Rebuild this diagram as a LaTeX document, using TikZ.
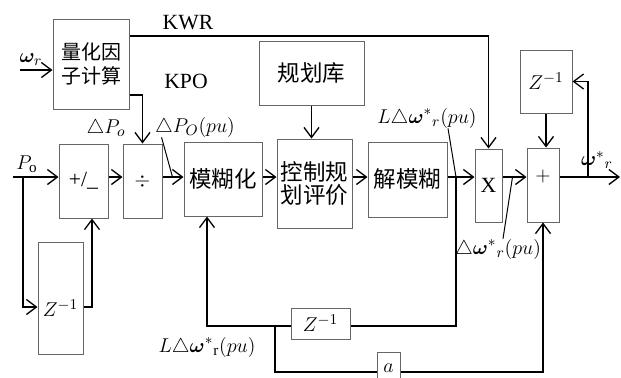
\documentclass[tikz,border=0pt]{standalone}
\usepackage{bm}
\usepackage{fontspec}
\setmainfont{Liberation Serif}
\newfontfamily\cjk{Noto Sans CJK SC}
\usetikzlibrary{arrows.meta}

\begin{document}
\begin{tikzpicture}[
  x=0.6pt, y=-0.6pt,
  box/.style={rectangle, draw=black!60, line width=0.6pt, inner sep=0pt, align=center},
  cn/.style={box, font=\cjk\fontsize{13.5}{14}\selectfont},
  arr/.style={-{Straight Barb[length=6pt,width=9pt]}, line width=0.8pt},
  wire/.style={line width=0.8pt},
  lead/.style={line width=0.6pt},
  lbl/.style={inner sep=0pt},
  font=\fontsize{13}{15}\selectfont
]
\useasboundingbox (0,0) rectangle (621,377);
% blocks
\node[cn, font=\cjk\fontsize{12}{14}\selectfont, minimum width=45.6pt, minimum height=54pt] (quant) at (91,64) {量化因\\子计算};
\node[box, minimum width=29.4pt, minimum height=44.4pt] (sum) at (83.5,181) {+/\_};
\node[box, minimum width=23.4pt, minimum height=44.4pt] (div) at (142.5,181) {$\div$};
\node[cn, minimum width=46.8pt, minimum height=44.4pt] (fuzz) at (223,179) {模糊化};
\node[cn, minimum width=45pt, minimum height=53.4pt] (rule) at (314.5,183.5) {控制规\\划评价};
\node[cn, minimum width=63pt, minimum height=38.4pt] (base) at (311.5,73) {规划库};
\node[cn, minimum width=47.4pt, minimum height=45pt] (defuzz) at (407.5,179.5) {解模糊};
\node[box, minimum width=16.2pt, minimum height=43.8pt] (mult) at (488.5,185.5) {X};
\node[box, minimum width=19.2pt, minimum height=44.4pt, text depth=11pt] (add) at (543,185) {$+$};
\node[box, minimum width=31.2pt, minimum height=37.8pt] (dlyA) at (546,81.5) {$Z^{-1}$};
\node[box, minimum width=27pt, minimum height=67.2pt, text height=22pt] (dlyB) at (60.5,298) {$Z^{-1}$};
\node[box, minimum width=35.4pt, minimum height=18.6pt] (dlyC) at (320.5,323.5) {$Z^{-1}$};
\node[box, minimum width=13.8pt, minimum height=19.2pt] (gain) at (388.5,368) {$a$};

% labels
\node[lbl] (kwr) at (188,23) {KWR};
\node[lbl] (kpo) at (186,81) {KPO};
\node[lbl] (wr) at (31,60) {$\bm{\omega}_{r}$};
\node[lbl] (po) at (27,164) {$P_{\mathrm{o}}$};
\node[lbl] (dpo) at (106,128) {$\triangle P_{o}$};
\node[lbl] (dpopu) at (195,127) {$\triangle P_{O}(pu)$};
\node[lbl] (ldwtop) at (427,118) {$L\triangle\bm{\omega}^{*}{}_{r}(pu)$};
\node[lbl] (dwpu) at (498,249) {$\triangle\bm{\omega}^{*}{}_{r}(pu)$};
\node[lbl] (ldwbot) at (207,347) {$L\triangle\bm{\omega}^{*}{}_{\mathrm{r}}(pu)$};
\node[lbl] (wout) at (597,160) {$\bm{\omega}^{*}{}_{r}$};

% helper points
\coordinate (sig) at (0,177);
\coordinate (win) at (20,70);
\coordinate (pin) at (13,177);
\coordinate (pbr) at (23,177);
\coordinate (zb) at (0,307);
\coordinate (wend) at (620,177);
\coordinate (obr) at (588,177);
\coordinate (dbr) at (456,177);
\coordinate (fb) at (0,326);
\coordinate (gbr) at (275,326);
\coordinate (gl) at (0,372);

% inputs
\draw[arr] (win) -- (quant.west |- win);
\draw[arr] (pin) -- (sum.west |- pin);
\draw[arr] (pbr) |- (dlyB.west |- zb);
\draw[arr] (dlyB.east |- zb) -| ([xshift=5.1pt]sum.south);
\draw[arr] (quant.east |- 0,36) -| (mult.north);
\draw[arr] (quant.east |- 0,95) -| (div.north);

% main chain
\draw[arr] (sum.east |- sig) -- (div.west |- sig);
\draw[arr] (div.east |- sig) -- (fuzz.west |- sig);
\draw[arr] (fuzz.east |- sig) -- (rule.west |- sig);
\draw[arr] (rule.east |- sig) -- (defuzz.west |- sig);
\draw[arr] (defuzz.east |- sig) -- (mult.west |- sig);
\draw[arr] (mult.east |- sig) -- (add.west |- sig);
\draw[arr] (add.east |- sig) -- (wend);
\draw[arr] (base.south) -- (base.south |- rule.north);
\draw[arr] (dlyA.south) -- (dlyA.south |- add.north);
\draw[arr] (obr) |- (dlyA.east);

% feedback
\draw[wire] (dbr) |- (dlyC.east |- fb);
\draw[arr] (dlyC.west |- fb) -| ([xshift=-9.6pt]fuzz.south);
\draw[wire] (gbr) |- (gain.west |- gl);
\draw[arr] (gain.east |- gl) -| (add.south);

% leaders
\draw[lead] ([xshift=4pt]dpopu.south west) -- ([xshift=6pt]div.east |- sig);
\draw[lead] ([xshift=12.6pt]ldwtop.south) -- (dbr);
\draw[lead] ([xshift=3pt]dwpu.north) -- ([xshift=6pt]mult.east |- sig);
\end{tikzpicture}
\end{document}
